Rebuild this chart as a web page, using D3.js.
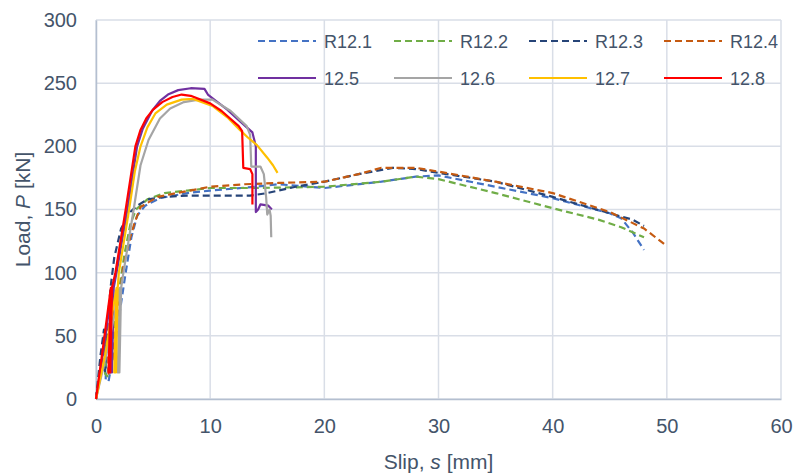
<!DOCTYPE html>
<html lang="en">
<head>
<meta charset="UTF-8">
<title>Load-slip</title>
<script src="https://d3js.org/d3.v7.min.js"></script>
<style>
  body { margin: 0; background: #fff; }
  text { font-family: "Liberation Sans", Arial, sans-serif; fill: #44546A; }
</style>
</head>
<body>
<div id="chart"></div>
<script>
// tick labels
var xTicks = [0, 10, 20, 30, 40, 50, 60];
var yTicks = [0, 50, 100, 150, 200, 250, 300];

// series names, in legend order
var names = ["R12.1", "R12.2", "R12.3", "R12.4", "12.5", "12.6", "12.7", "12.8"];

// [slip s (mm), load P (kN)]
var r121 = [[0,0],[0.5,25],[0.9,45],[0.85,15],[1.1,14],[1.6,40],[2.1,70],[2.6,100],[3.1,128],[3.6,145],[4.3,153],[5.6,159],[8,163],[10,165],[14,168],[16,170],[20,167],[25,172],[28,176],[30,177],[35,168],[40,159],[45,147],[46,143],[47,132],[48,118]];
var r122 = [[0,0],[0.5,28],[0.9,50],[0.8,20],[1.0,18],[1.5,50],[2.0,85],[2.5,115],[3.0,138],[3.5,150],[4.5,158],[6,163],[8,165],[10,167],[14,167],[20,168],[25,172],[28,176],[30,174],[35,163],[40,151],[44,142],[46,136],[48,128]];
var r123 = [[0,0],[0.4,35],[0.7,55],[0.6,25],[0.8,22],[1.0,60],[1.3,90],[1.6,112],[2.2,135],[3,148],[3.6,153],[4.5,158],[6,160],[8,161],[13.5,161],[15,163],[17.5,168],[20,172],[23,178],[26,183],[28,182],[30,179],[35,172],[40,160],[45,147],[47,142],[48,137]];
var r124 = [[0,0],[0.5,30],[1.0,60],[1.1,20],[1.3,20],[1.8,60],[2.4,105],[3.0,128],[3.4,140],[3.9,152],[5.4,160],[6.5,162],[10,168],[13,170],[16,171],[20,172],[23,178],[25,183],[28,183],[30,180],[35,172],[40,163],[45,148],[48,135],[50,121]];
var s125 = [[0,0],[0.6,35],[1.4,88],[1.25,21],[1.4,21],[1.55,88],[1.9,105],[2.75,150],[3.6,200],[4.1,214],[4.9,228],[5.6,236],[6.3,241],[7.2,244.5],[8.3,246],[9.5,245.5],[9.8,241],[10.5,236],[11.5,229],[12.6,220],[13.7,211],[14.0,200],[14.0,148],[14.2,150],[14.4,154],[15.1,153],[15.4,150]];
var s126 = [[0,0],[0.9,35],[2.1,88],[1.9,21],[2.05,21],[2.2,88],[2.4,100],[3.3,150],[3.9,185],[4.6,205],[5.6,222],[6.5,230],[7.7,235],[9,237],[10.2,237],[11.8,228],[13.2,216],[13.5,209],[13.6,184],[14.4,184],[14.7,178],[14.9,160],[15.0,146],[15.2,150],[15.3,145],[15.35,128]];
var s127 = [[0,0],[0.8,35],[1.8,88],[1.6,21],[1.75,21],[1.9,88],[2.0,100],[2.9,150],[3.4,180],[3.9,200],[4.5,215],[5.2,226],[6.2,233],[7.5,237],[8.5,237.5],[10.2,232],[11.5,223],[12.6,213],[13.3,207],[14.1,201],[15,191],[15.5,185],[15.9,179]];
var s128 = [[0,0],[0.6,40],[1.3,88],[1.1,21],[1.25,21],[1.4,88],[1.7,100],[2.6,150],[3.45,200],[3.9,213],[4.4,222],[5,229],[5.8,235],[6.7,239],[7.5,241],[8.3,240],[10,234],[11,228],[12.5,216],[12.8,212],[12.9,183],[13.5,182],[13.7,178],[13.7,154]];

var seriesData = [r121, r122, r123, r124, s125, s126, s127, s128];
var colors = ["#4472C4", "#70AD47", "#264478", "#C55A11", "#7030A0", "#A5A5A5", "#FFC000", "#FF0000"];
var dashed = [true, true, true, true, false, false, false, false];

var width = 795, height = 474;
var margin = {top: 20, right: 14, bottom: 75, left: 96};

var svg = d3.select("#chart").append("svg")
    .attr("width", width)
    .attr("height", height);

var x = d3.scaleLinear().domain([0, 60]).range([margin.left, width - margin.right]);
var y = d3.scaleLinear().domain([0, 300]).range([height - margin.bottom, margin.top]);

// grid
svg.append("g").selectAll("line.gx")
  .data(xTicks).enter().append("line")
    .attr("x1", function(d) { return x(d); })
    .attr("x2", function(d) { return x(d); })
    .attr("y1", y(0)).attr("y2", y(300))
    .attr("stroke", "#D9DEE7").attr("stroke-width", 1.5);

svg.append("g").selectAll("line.gy")
  .data(yTicks).enter().append("line")
    .attr("y1", function(d) { return y(d); })
    .attr("y2", function(d) { return y(d); })
    .attr("x1", x(0)).attr("x2", x(60))
    .attr("stroke", "#D9DEE7").attr("stroke-width", 1.5);

// axes
var xAxis = svg.append("g")
    .attr("transform", "translate(0," + y(0) + ")")
    .call(d3.axisBottom(x).tickValues(xTicks).tickSize(0).tickPadding(20));
var yAxis = svg.append("g")
    .attr("transform", "translate(" + x(0) + ",0)")
    .call(d3.axisLeft(y).tickValues(yTicks).tickSize(0).tickPadding(19));

[xAxis, yAxis].forEach(function(a) {
  a.select(".domain").attr("stroke", "#B4BFD0").attr("stroke-width", 1.5);
  a.selectAll("text").style("font-size", "20px").attr("fill", "#44546A")
    .style("font-family", "'Liberation Sans', Arial, sans-serif");
});

// axis titles
var xt = svg.append("text")
    .attr("x", (x(0) + x(60)) / 2)
    .attr("y", 469)
    .attr("text-anchor", "middle")
    .style("font-size", "21px");
xt.append("tspan").text("Slip, ");
xt.append("tspan").style("font-style", "italic").text("s");
xt.append("tspan").text(" [mm]");

var yt = svg.append("text")
    .attr("transform", "translate(30," + ((y(0) + y(300)) / 2) + ") rotate(-90)")
    .attr("text-anchor", "middle")
    .style("font-size", "21px");
yt.append("tspan").text("Load, ");
yt.append("tspan").style("font-style", "italic").text("P");
yt.append("tspan").text(" [kN]");

// curves
var line = d3.line()
    .x(function(d) { return x(d[0]); })
    .y(function(d) { return y(d[1]); });

seriesData.forEach(function(data, i) {
  svg.append("path")
    .datum(data)
    .attr("d", line)
    .attr("fill", "none")
    .attr("stroke", colors[i])
    .attr("stroke-width", 2.2)
    .attr("stroke-linejoin", "round")
    .attr("stroke-dasharray", dashed[i] ? "7,4" : null);
});

// legend
var legX = [258, 394, 529, 664];
var legY = [41, 78];
names.forEach(function(n, i) {
  var lx = legX[i % 4], ly = legY[Math.floor(i / 4)];
  svg.append("line")
    .attr("x1", lx).attr("x2", lx + 58)
    .attr("y1", ly).attr("y2", ly)
    .attr("stroke", colors[i])
    .attr("stroke-width", 2.2)
    .attr("stroke-dasharray", dashed[i] ? "7,4" : null);
  svg.append("text")
    .attr("x", lx + 66)
    .attr("y", ly + 7)
    .style("font-size", "18px")
    .text(n);
});
</script>
</body>
</html>
